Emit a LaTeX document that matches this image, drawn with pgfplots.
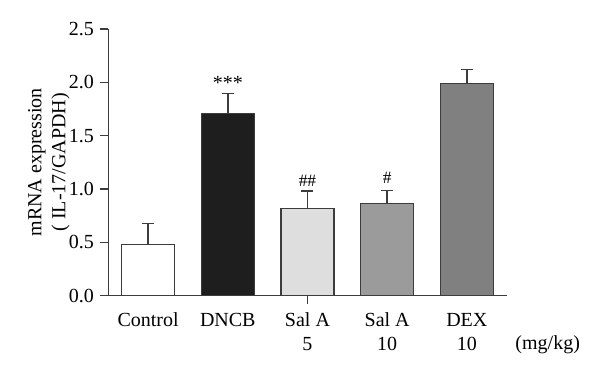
\documentclass[border=0pt]{standalone}
\usepackage{pgfplots}
\pgfplotsset{compat=1.18}
\usepackage{fontspec}
\setmainfont{Liberation Serif}
\definecolor{edge}{RGB}{60,60,60}
\definecolor{cDNCB}{RGB}{30,30,30}
\definecolor{cSal5}{RGB}{222,222,222}
\definecolor{cSal10}{RGB}{155,155,155}
\definecolor{cDEX}{RGB}{128,128,128}
\begin{document}
\begin{tikzpicture}
\path[use as bounding box] (0,0) rectangle (450pt,281.25pt);
\begin{axis}[
  at={(81.2pt,59.5pt)}, anchor=south west,
  scale only axis, width=298.8pt, height=200pt,
  xmin=-0.5, xmax=4.5, ymin=0, ymax=2.5,
  axis x line*=bottom, axis y line*=left,
  axis line style={edge, line width=1.1pt},
  xtick={0,1,2,3,4},
  xticklabels={Control, DNCB, {Sal A\\5}, {Sal A\\10}, {DEX\\10}},
  ytick={0,0.5,1,1.5,2,2.5},
  tick align=outside, major tick length=6pt,
  xtick style={draw=none},
  ytick style={edge, line width=1.1pt},
  tick label style={font=\fontsize{15}{18}\selectfont},
  /pgf/number format/assume math mode=true,
  xticklabel style={align=center, anchor=north, inner sep=0pt, yshift=-6.75pt},
  yticklabel style={/pgf/number format/.cd, fixed, fixed zerofill, precision=1, /tikz/.cd, anchor=east, inner sep=0pt, xshift=-4.5pt},
  ylabel={mRNA expression\\( IL-17/GAPDH)},
  every axis y label/.style={at={(axis description cs:-0.149,0.5)}, rotate=90, anchor=center, align=center, font=\fontsize{15}{18}\selectfont},
  clip=false,
  ybar, bar width=39.75pt, bar shift=0pt,
  every axis plot/.append style={draw=edge, line width=1.1pt},
  error bars/y dir=plus, error bars/y explicit,
  error bars/error bar style={edge, line width=1.1pt},
  error bars/error mark=|,
  error bars/error mark options={edge, line width=1.1pt, mark size=4.5pt},
]
\addplot[fill=white] coordinates {(0,0.478) +- (0,0.197)};
\addplot[fill=cDNCB] coordinates {(1,1.709) +- (0,0.184)};
\addplot[fill=cSal5] coordinates {(2,0.819) +- (0,0.162)};
\addplot[fill=cSal10] coordinates {(3,0.862) +- (0,0.126)};
\addplot[fill=cDEX] coordinates {(4,1.987) +- (0,0.131)};
\draw[edge, line width=1.1pt] (axis cs:2,0) -- ([yshift=-6pt]axis cs:2,0);
\node[anchor=base, font=\fontsize{15}{18}\selectfont, inner sep=0pt] at (axis cs:1,1.93) {***};
\node[anchor=base, font=\fontsize{13}{15}\selectfont, inner sep=0pt] at (axis cs:2,1.028) {\#\#};
\node[anchor=base, font=\fontsize{13}{15}\selectfont, inner sep=0pt] at (axis cs:3,1.053) {\#};
\node[anchor=base, font=\fontsize{15}{18}\selectfont, inner sep=0pt] at (axis cs:5.015,0) [yshift=-40.2pt] {(mg/kg)};
\end{axis}
\end{tikzpicture}
\end{document}
